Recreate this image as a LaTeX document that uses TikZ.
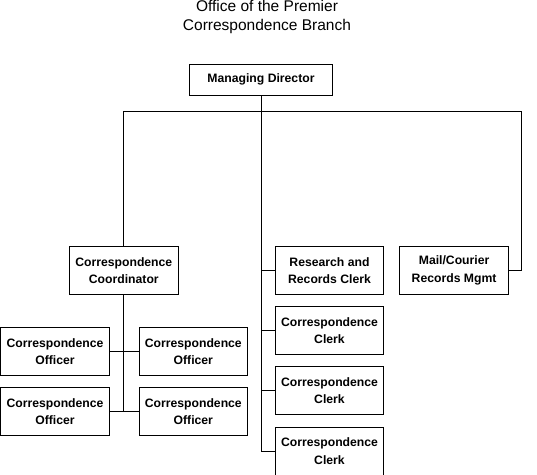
\documentclass[tikz,border=0pt]{standalone}
\usepackage{fontspec}
\setmainfont{Liberation Sans}
\usetikzlibrary{positioning}

\begin{document}
\begin{tikzpicture}[x=1pt,y=-1pt,line width=1pt,
		main node/.style={rectangle,draw,minimum width=108.6pt,minimum height=48pt,inner sep=0pt,align=center,font=\bfseries\fontsize{12.2}{17.3}\selectfont},
		top node/.style={main node,minimum width=143pt,minimum height=31pt},
		title node/.style={align=center,font=\fontsize{15.5}{19}\selectfont}]
		\useasboundingbox (0,0) rectangle (537,474);
		\node[title node] (0) at (267,16.5) {Office of the Premier\\Correspondence Branch};
		\node[top node] (1) at (261,79.5) {Managing Director};
		\node[main node] (2) at (123.8,270.3) {Correspondence\\Coordinator};
		\node[main node] (3) at (329.5,270.3) {Research and\\Records Clerk};
		\node[main node] (4) [right=15pt of 3] {Mail/Courier\\Records Mgmt};
		\node[main node] (5) [below=11.3pt of 3] {Correspondence\\Clerk};
		\node[main node] (6) [below=11.3pt of 5] {Correspondence\\Clerk};
		\node[main node] (7) [below=11.3pt of 6] {Correspondence\\Clerk};
		\node[main node] (8) at (55,351.3) {Correspondence\\Officer};
		\node[main node] (9) [right=28.7pt of 8] {Correspondence\\Officer};
		\node[main node] (10) [below=11.3pt of 8] {Correspondence\\Officer};
		\node[main node] (11) [right=28.7pt of 10] {Correspondence\\Officer};
		
		\coordinate (a) at (123.8,111);
		\coordinate (b) at (521.7,111);
		
		\draw (1) -- (1 |- a);
		\draw (a) -- (b);
		\draw (a) -- (2);
		\draw (b) |- (4);
		\draw (1 |- a) -- (1 |- 7);
		\foreach \n in {3,5,6,7}
			\draw (1 |- \n) -- (\n);
		%coordinator's officers
		\draw (2) -- (2 |- 10);
		\draw (8) -- (9);
		\draw (10) -- (11);
\end{tikzpicture}
\end{document}
